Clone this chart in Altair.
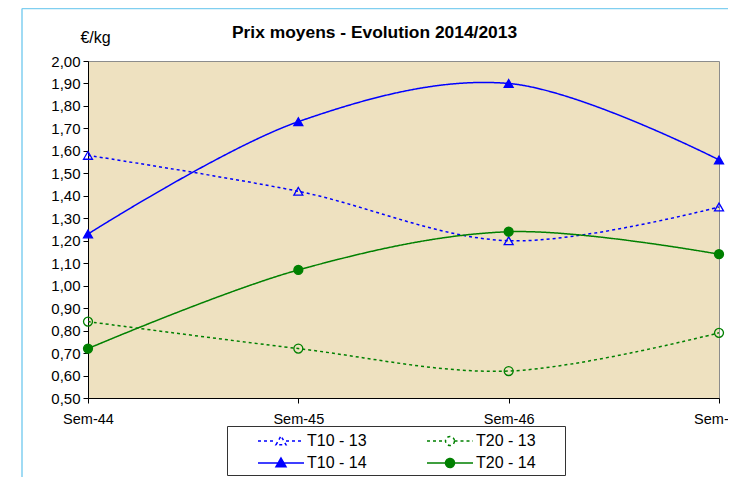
import altair as alt
import pandas as pd

weeks = ["Sem-44", "Sem-45", "Sem-46", "Sem-47"]
series = ["T10 - 13", "T20 - 13", "T10 - 14", "T20 - 14"]
t10_13 = [1.58, 1.42, 1.20, 1.35]
t20_13 = [0.84, 0.72, 0.62, 0.79]
t10_14 = [1.23, 1.73, 1.90, 1.56]
t20_14 = [0.72, 1.07, 1.24, 1.14]
y_ticks = [0.5, 0.6, 0.7, 0.8, 0.9, 1.0, 1.1, 1.2, 1.3, 1.4, 1.5, 1.6, 1.7, 1.8, 1.9, 2.0]

colors = ["#0000FF", "#008000", "#0000FF", "#008000"]
dashes = [[3, 3], [3, 3], [1, 0], [1, 0]]
shapes = ["triangle-up", "circle", "triangle-up", "circle"]
fills = ["transparent", "transparent", "#0000FF", "#008000"]

rows = []
for name, vals in zip(series, [t10_13, t20_13, t10_14, t20_14]):
    for w, v in zip(weeks, vals):
        rows.append({"week": w, "series": name, "value": v})
df = pd.DataFrame(rows)

FONT = "Liberation Sans"

# legend symbols: line + marker
tri_open = "M-2.3,0H-0.5M0.5,0H2.3M-0.5,0.38L0,-0.5L0.5,0.38Z"
tri_full = "M-2.3,0H2.3M-0.5,0.38L0,-0.5L0.5,0.38Z"
cir_open = "M-2.3,0H-0.45M0.45,0H2.3M0.45,0A0.45,0.45 0 1 1 -0.45,0A0.45,0.45 0 1 1 0.45,0Z"
cir_full = "M-2.3,0H2.3M0.45,0A0.45,0.45 0 1 1 -0.45,0A0.45,0.45 0 1 1 0.45,0Z"
sym_paths = [tri_open, cir_open, tri_full, cir_full]

legend = alt.Legend(
    title="\u00a0",
    titleOrient="right",
    titlePadding=25,
    titleFontSize=12,
    orient="none",
    direction="horizontal",
    legendX=139,
    legendY=365,
    columns=2,
    labelFont=FONT,
    labelFontSize=16,
    labelColor="black",
    symbolSize=400,
    symbolStrokeWidth=1.5,
    symbolOffset=39,
    labelOffset=15,
    columnPadding=33,
    rowPadding=3,
    padding=4,
    strokeColor="#333333",
    fillColor="white",
)

x_enc = alt.X(
    "week:N",
    sort=weeks,
    scale=alt.Scale(type="point", padding=0),
    axis=alt.Axis(
        title=None,
        labelAngle=0,
        labelFont=FONT,
        labelFontSize=14.5,
        labelColor="black",
        labelPadding=9,
        tickSize=5,
        tickColor="black",
        domainColor="black",
        grid=False,
    ),
)
y_enc = alt.Y(
    "value:Q",
    scale=alt.Scale(domain=[0.5, 2.0], nice=False, zero=False),
    axis=alt.Axis(
        values=y_ticks,
        labelExpr="replace(format(datum.value, '.2f'), '.', ',')",
        labelFont=FONT,
        labelFontSize=15,
        labelColor="black",
        labelPadding=3,
        tickSize=5,
        tickColor="black",
        domainColor="black",
        grid=False,
        title="€/kg",
        titleAngle=0,
        titleX=7,
        titleY=-24,
        titleAlign="center",
        titleBaseline="middle",
        titleFont=FONT,
        titleFontSize=16,
        titleFontWeight="normal",
        titleColor="black",
    ),
)


def ch(channel, vals, leg):
    return channel("series:N", sort=series, scale=alt.Scale(domain=series, range=vals), legend=leg)


lines = alt.Chart(df).mark_line(interpolate="catmull-rom", strokeWidth=1.5).encode(
    x=x_enc,
    y=y_enc,
    stroke=ch(alt.Stroke, colors, None),
    strokeDash=ch(alt.StrokeDash, dashes, None),
)

points = alt.Chart(df).mark_point(size=80, strokeWidth=1.3, opacity=1).encode(
    x=x_enc,
    y=y_enc,
    stroke=ch(alt.Stroke, colors, None),
    fill=ch(alt.Fill, fills, None),
    shape=ch(alt.Shape, shapes, None),
)

legend_layer = alt.Chart(df).mark_point(opacity=1).encode(
    x=x_enc,
    y=y_enc,
    stroke=ch(alt.Stroke, colors, legend),
    fill=ch(alt.Fill, fills, legend),
    strokeDash=ch(alt.StrokeDash, dashes, legend),
    shape=ch(alt.Shape, sym_paths, legend),
).transform_filter("false")

frame_df = pd.DataFrame({"a": [0]})
frame_left = alt.Chart(frame_df).mark_rule(color="#80CFF0", strokeWidth=1.5).encode(
    x=alt.value(-66), y=alt.value(-52.5), y2=alt.value(420)
)
frame_top = alt.Chart(frame_df).mark_rule(color="#80CFF0", strokeWidth=1.5).encode(
    x=alt.value(-66), x2=alt.value(700), y=alt.value(-52.5)
)

chart = alt.layer(frame_left, frame_top, lines, points, legend_layer).resolve_scale(
    shape="independent", stroke="independent", fill="independent", strokeDash="independent"
).properties(
    width=631,
    height=337,
    padding={"left": 80, "top": 53, "right": 9, "bottom": 79},
    autosize=alt.AutoSizeParams(type="none"),
    title=alt.TitleParams(
        "Prix moyens - Evolution 2014/2013",
        font=FONT,
        fontSize=17.4,
        fontWeight="bold",
        color="black",
        anchor="start",
        frame="group",
        dx=144,
        offset=-43,
        baseline="middle",
    ),
    background="white",
).configure_view(
    fill="#EEE1C0",
    stroke="#8C8C8C",
    strokeWidth=1,
)

chart.save("out.html", embed_options={"renderer": "svg", "actions": False})
